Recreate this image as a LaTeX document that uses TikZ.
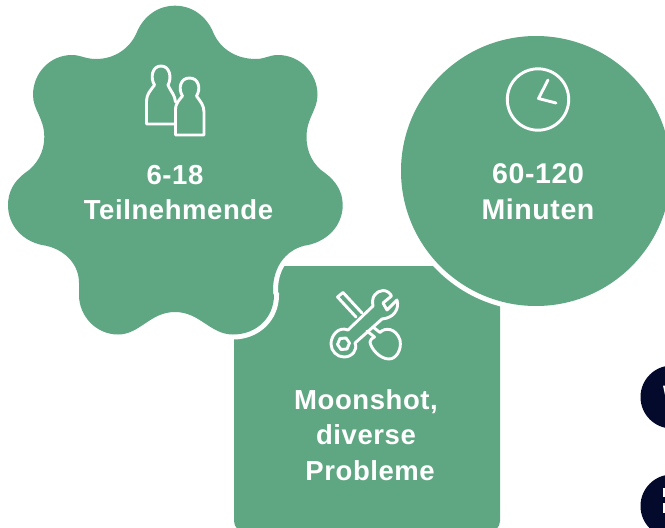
\documentclass[tikz,border=0pt]{standalone}
\usepackage{fontspec}
\setmainfont{Liberation Sans}
\newfontfamily\labelfont[LetterSpace=2.1]{Liberation Sans Bold}
\definecolor{sage}{HTML}{5FA783}
\definecolor{deepnavy}{HTML}{030A2B}
\tikzset{
  lbl/.style={text=white,align=center,font=\labelfont\fontsize{27.5}{35.5}\selectfont,inner sep=0pt},
  lblwide/.style={lbl,font=\labelfont\fontsize{28.5}{35.5}\selectfont},
  icon/.style={draw=white,line width=2.9pt,line join=round,line cap=round},
  halo/.style={draw=white,line width=10pt},
  dot/.style={fill=deepnavy,draw=none}
}
\newcommand{\starpath}{
 (175,5.7) .. controls (193,5.7) and (207,17) .. (213.5,33)
 .. controls (220,48) and (235,59) .. (256,59)
 .. controls (265,59) and (269,55) .. (278,55)
 .. controls (300,55) and (317.5,73) .. (317.5,95)
 .. controls (317.5,110) and (306.5,118) .. (306.5,137)
 .. controls (306.5,152) and (313,165) .. (325,173)
 .. controls (336,181) and (342.7,192) .. (342.7,205)
 .. controls (342.7,226) and (327,241) .. (308,245)
 .. controls (288,248) and (273,265) .. (273,290)
 .. controls (273,295) and (274,295) .. (274,295)
 .. controls (274,318) and (256,334.5) .. (233,334.5)
 .. controls (210,334.5) and (200,312) .. (175,312)
 .. controls (150,312) and (140,334.5) .. (118,334.5)
 .. controls (96,334.5) and (79,316) .. (79,295)
 .. controls (79,288) and (79,285) .. (79,283)
 .. controls (79,263) and (63,248) .. (42,245)
 .. controls (23,241) and (8,226) .. (8,205)
 .. controls (8,192) and (14,181) .. (25,173)
 .. controls (37,165) and (44.3,152) .. (44.3,137)
 .. controls (44.3,118) and (33,110) .. (33,95)
 .. controls (33,73) and (50,55) .. (72,55)
 .. controls (81,55) and (85,59) .. (96,59)
 .. controls (115,59) and (130,48) .. (136.5,33)
 .. controls (143,17) and (157,5.7) .. (175,5.7) -- cycle}
\begin{document}
\begin{tikzpicture}[x=1pt,y=-1pt]
\useasboundingbox (0,0) rectangle (665,528);
\clip (0,0) rectangle (665,528);
% square
\fill[sage,rounded corners=11pt] (234,266) rectangle (500,532);
% circle
\draw[halo] (536,171) circle (135);
\fill[sage] (536,171) circle (135);
% star
\draw[halo] \starpath;
\fill[sage] \starpath;
% dark dots with the cut-off white glyph edges
\fill[dot] (672,397) circle (31.5);
\fill[dot] (672,506) circle (31.5);
\fill[white] (663,385.5) -- (665,385.5) -- (665,395) -- cycle;
\fill[white] (662.5,488) rectangle (665,497);
\fill[white] (662.5,503) rectangle (665,513);
% people icon
\draw[icon] (174.3,124) -- (146.5,124) -- (146.5,101) .. controls (146.5,94) and (151,90) .. (154.5,85)
 .. controls (150,78) and (152,66) .. (161,66) .. controls (170,66) and (172,78) .. (168,85)
 .. controls (171,92) and (175,95) .. (175.5,102);
\draw[icon] (175.5,135) -- (175.5,109) .. controls (175.5,104) and (179,100) .. (182.5,96)
 .. controls (178,89) and (180,78) .. (189.5,78) .. controls (199,78) and (201,89) .. (196.5,96)
 .. controls (200,101) and (204,105) .. (204,112) -- (204,135) -- cycle;
% clock icon
\draw[icon] (538,99.5) circle (30.7);
\draw[icon] (548,80) -- (538.5,98.5) -- (556,103);
% tools icon
\draw[icon] (356,317) -- (337.5,297) -- (343,292.5) -- (362,313);
\draw[icon] (348,330) -- (373,306) .. controls (371,297) and (376,291) .. (383,290.5)
 .. controls (387,290.5) and (390,293) .. (391.5,296) -- (383,303) -- (387,310) -- (397,300)
 .. controls (399.5,309) and (394,318) .. (382,319) -- (355,343)
 .. controls (358,350) and (352,357) .. (344,357) .. controls (337,357) and (331,351) .. (331,344)
 .. controls (331,336) and (338,326) .. (348,330) -- cycle;
\draw[icon] (340,338.5) -- (346,338) -- (349.5,343) -- (347,349) -- (341,349.5) -- (337.5,344.5) -- cycle;
\draw[icon] (373,327) -- (380,332.5) .. controls (385,327) and (396,328) .. (400,340)
 .. controls (402,350) and (396,359) .. (389,359) .. controls (380,359) and (371,349) .. (370,342)
 .. controls (370,340) and (372,338) .. (374.5,337) -- (367,331);
% labels
\node[lbl] (n1) at (178.5,192.5) {6-18\rule{7pt}{0pt}\\Teilnehmende};
\node[lblwide] (n2) at (538,191.5) {60-120\\Minuten};
\node[lbl] (n3) at (366,435) {Moonshot,\\diverse\\\ Probleme};
\end{tikzpicture}
\end{document}
